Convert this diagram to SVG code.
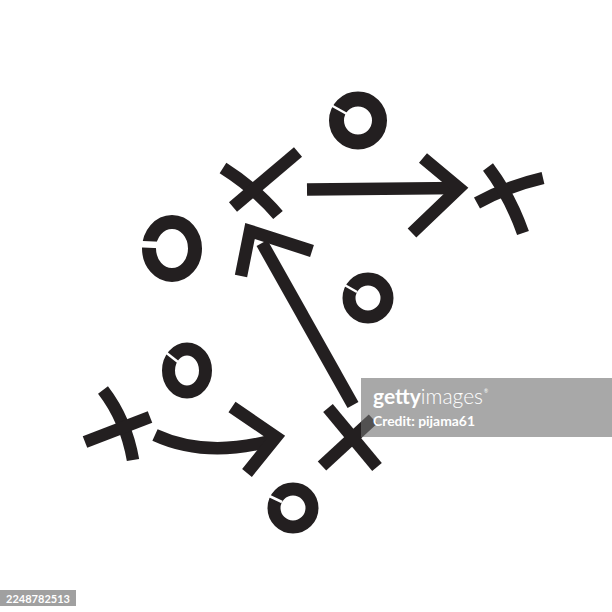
<svg xmlns="http://www.w3.org/2000/svg" width="612" height="612" viewBox="0 0 612 612">
<style>
.s{fill:none;stroke:#231f20;stroke-width:12.5;stroke-linecap:butt;stroke-linejoin:miter;stroke-miterlimit:10}
.r{fill:none;stroke:#231f20}
.g{fill:none;stroke:#fff;stroke-linecap:butt}
.wm{font-family:Lato,"Open Sans","Liberation Sans",sans-serif;fill:#fff}
</style>
<rect width="612" height="612" fill="#fff"/>
<g id="o-top"><circle class="r" cx="358" cy="120.5" r="21.5" stroke-width="15"/><line class="g" x1="347" y1="114" x2="329" y2="104" stroke-width="2.5"/></g>
<g id="o-left"><ellipse class="r" cx="172" cy="248.5" rx="23" ry="26.5" stroke-width="14"/><line class="g" x1="160" y1="245" x2="137" y2="244" stroke-width="6.5"/></g>
<g id="o-mid"><circle class="r" cx="368" cy="298" r="19" stroke-width="13"/><line class="g" x1="357" y1="292" x2="341" y2="283" stroke-width="2.5"/></g>
<g id="o-lowleft"><ellipse class="r" cx="187" cy="370.5" rx="18.5" ry="21.5" stroke-width="13"/><line class="g" x1="178" y1="362" x2="164" y2="351" stroke-width="2.5"/></g>
<g id="o-bottom"><circle class="r" cx="293" cy="508" r="19" stroke-width="13"/><line class="g" x1="282" y1="502" x2="265" y2="494" stroke-width="2.5"/></g>
<g id="x-topleft"><path class="s" d="M223,168 Q256,189 278,215"/><path class="s" d="M233,207 L298,152"/></g>
<g id="x-right"><path class="s" d="M477,203 Q508,186 543,178"/><path class="s" d="M488,167 Q510,196 523,233"/></g>
<g id="x-lowleft"><path class="s" d="M103,390 Q126,420 133,460"/><path class="s" d="M85,442 L150,417"/></g>
<g id="x-lowright"><path class="s" d="M328,408 L377,467"/><path class="s" d="M322,466 L373,419"/></g>
<g id="connectors">
<path class="s" d="M307,189.5 L460,188"/>
<polyline class="s" points="423,158 459,188 412,233"/>
<path class="s" d="M262,243 L353,405"/>
<polyline class="s" points="241,276 250,231 312,251"/>
<path class="s" d="M155,435 Q205,458 270,441"/>
<polyline class="s" points="232,407 276,437 247,473"/>
</g>
<g id="watermark">
<rect x="361" y="378" width="251" height="59" fill="#707070" fill-opacity="0.61"/>
<text class="wm" x="373" y="404" font-size="21" textLength="110" lengthAdjust="spacingAndGlyphs"><tspan font-weight="bold">getty</tspan><tspan font-weight="300">images</tspan></text>
<text class="wm" x="484" y="393" font-size="5">®</text>
<text class="wm" x="373" y="426" font-size="14" font-weight="bold" textLength="102" lengthAdjust="spacingAndGlyphs">Credit: pijama61</text>
</g>
<g id="id-label">
<rect x="0" y="590" width="76" height="16" fill="#a0a0a0"/>
<text class="wm" x="6" y="603" font-size="12" font-weight="bold" textLength="64" lengthAdjust="spacingAndGlyphs">2248782513</text>
</g>
</svg>
